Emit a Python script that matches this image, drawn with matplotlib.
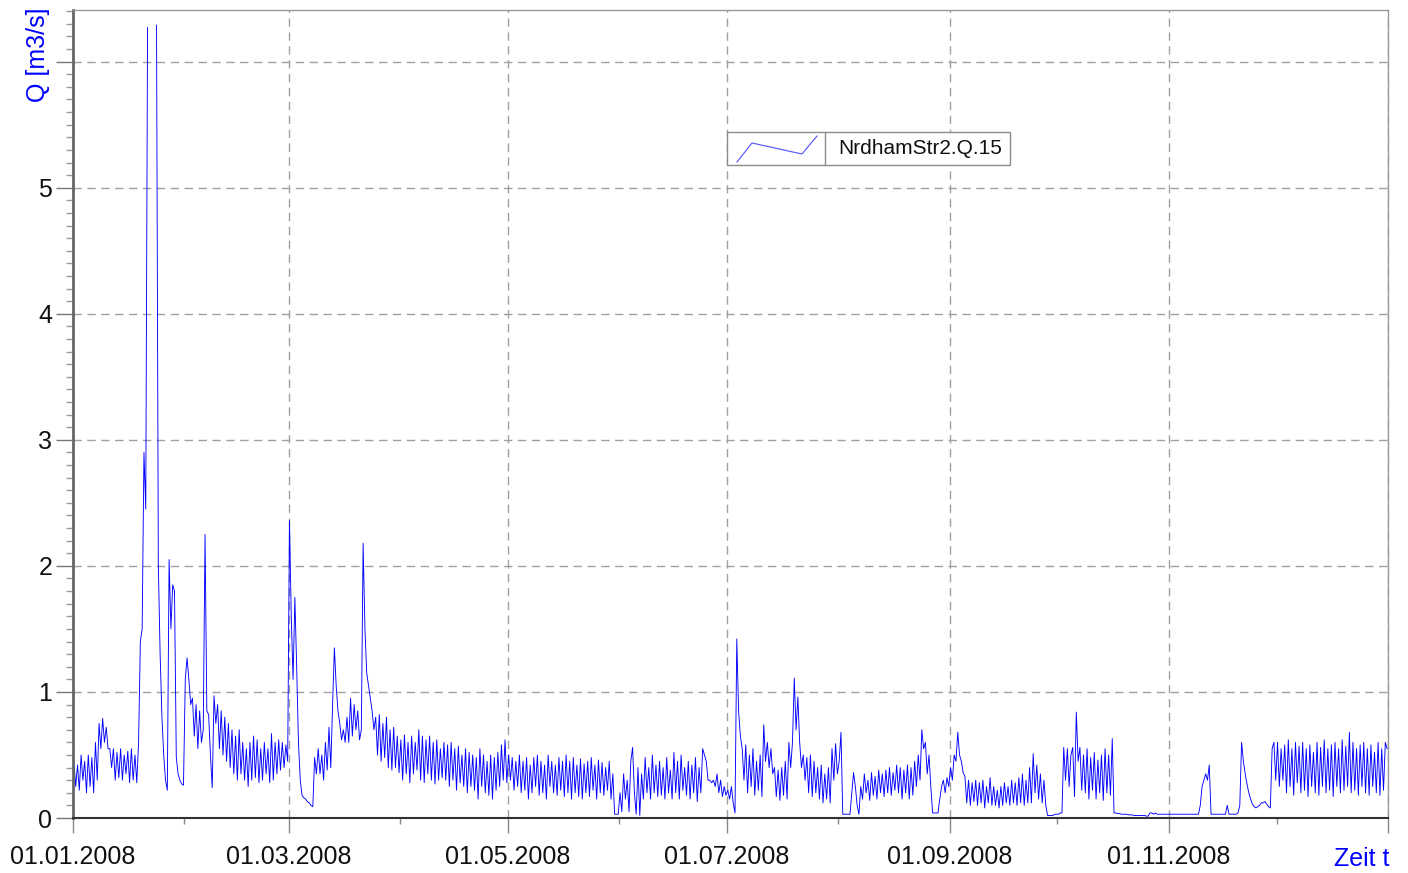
import numpy as np
import matplotlib
matplotlib.use("Agg")
import matplotlib.pyplot as plt
from matplotlib.lines import Line2D
from matplotlib.patches import Rectangle
from matplotlib.ticker import MultipleLocator, FuncFormatter

plt.rcParams['font.family'] = ['Liberation Sans', 'DejaVu Sans']

nan = np.nan

# discharge, two readings per day (06:00 and 18:00), one list per month
q_jan = [(0.45, 0.25), (0.42, 0.22), (0.5, 0.3), (0.45, 0.2), (0.5, 0.25), (0.48, 0.2), (0.6, 0.3), (0.75, 0.55),
         (0.79, 0.6), (0.72, 0.55), (0.55, 0.4), (0.55, 0.3), (0.52, 0.32), (0.55, 0.3), (0.5, 0.35), (0.53, 0.28),
         (0.55, 0.3), (0.5, 0.28), (0.6, 1.4), (1.5, 2.9), (2.45, 6.27), (nan, nan), (nan, nan), (6.29, 2.0),
         (1.3, 0.8), (0.5, 0.3), (0.22, 2.05), (1.5, 1.85), (1.8, 0.48), (0.35, 0.3), (0.27, 0.26)]
q_feb = [(1.1, 1.27), (1.1, 0.9), (0.95, 0.65), (0.9, 0.55), (0.85, 0.6), (0.7, 2.25), (0.85, 0.82), (0.5, 0.24),
         (0.97, 0.75), (0.9, 0.55), (0.85, 0.5), (0.8, 0.45), (0.75, 0.4), (0.7, 0.35), (0.65, 0.3), (0.7, 0.35),
         (0.6, 0.3), (0.55, 0.25), (0.6, 0.3), (0.65, 0.32), (0.62, 0.28), (0.55, 0.3), (0.6, 0.35), (0.55, 0.28),
         (0.67, 0.3), (0.6, 0.35), (0.62, 0.38), (0.6, 0.4), (0.58, 0.45)]
q_mar = [(2.36, 1.6), (1.1, 1.75), (1.2, 0.6), (0.3, 0.18), (0.16, 0.15), (0.13, 0.12), (0.1, 0.09), (0.48, 0.35),
         (0.55, 0.35), (0.5, 0.3), (0.6, 0.38), (0.72, 0.4), (0.9, 1.35), (1.05, 0.85), (0.75, 0.62), (0.7, 0.6),
         (0.8, 0.6), (0.95, 0.65), (0.9, 0.7), (0.85, 0.62), (0.7, 2.18), (1.5, 1.15), (1.05, 0.95), (0.85, 0.7),
         (0.8, 0.5), (0.82, 0.45), (0.75, 0.48), (0.8, 0.4), (0.7, 0.38), (0.72, 0.4), (0.65, 0.36)]
q_apr = [(0.62, 0.3), (0.66, 0.35), (0.6, 0.28), (0.65, 0.35), (0.6, 0.38), (0.7, 0.3), (0.65, 0.28), (0.62, 0.35),
         (0.65, 0.3), (0.6, 0.27), (0.62, 0.3), (0.55, 0.32), (0.6, 0.3), (0.58, 0.25), (0.6, 0.3), (0.55, 0.22),
         (0.57, 0.28), (0.5, 0.25), (0.55, 0.2), (0.52, 0.25), (0.5, 0.22), (0.48, 0.15), (0.55, 0.25), (0.5, 0.2),
         (0.45, 0.18), (0.5, 0.15), (0.48, 0.22), (0.52, 0.25), (0.58, 0.3), (0.62, 0.28)]
q_may = [(0.5, 0.3), (0.48, 0.22), (0.45, 0.25), (0.5, 0.2), (0.45, 0.22), (0.48, 0.15), (0.42, 0.2), (0.48, 0.25),
         (0.5, 0.18), (0.45, 0.2), (0.42, 0.15), (0.5, 0.25), (0.45, 0.2), (0.42, 0.18), (0.48, 0.22), (0.45, 0.17),
         (0.5, 0.2), (0.45, 0.15), (0.48, 0.2), (0.42, 0.17), (0.47, 0.15), (0.43, 0.2), (0.45, 0.17), (0.48, 0.22),
         (0.42, 0.15), (0.46, 0.2), (0.44, 0.18), (0.4, 0.22), (0.45, 0.15), (0.35, 0.03), (0.03, 0.03)]
q_jun = [(0.2, 0.05), (0.35, 0.15), (0.3, 0.05), (0.45, 0.56), (0.2, 0.03), (0.4, 0.02), (0.35, 0.15), (0.48, 0.2),
         (0.4, 0.15), (0.5, 0.2), (0.42, 0.17), (0.45, 0.18), (0.4, 0.15), (0.48, 0.2), (0.38, 0.15), (0.52, 0.2),
         (0.45, 0.15), (0.5, 0.22), (0.4, 0.18), (0.45, 0.15), (0.42, 0.2), (0.48, 0.13), (0.4, 0.2), (0.55, 0.5),
         (0.45, 0.3), (0.3, 0.28), (0.3, 0.25), (0.35, 0.2), (0.3, 0.17), (0.25, 0.18)]
q_jul = [(0.22, 0.15), (0.25, 0.12), (0.04, 1.42), (0.85, 0.65), (0.55, 0.3), (0.58, 0.2), (0.5, 0.25), (0.55, 0.18),
         (0.45, 0.22), (0.5, 0.17), (0.74, 0.45), (0.6, 0.4), (0.55, 0.35), (0.4, 0.17), (0.38, 0.14), (0.4, 0.18),
         (0.45, 0.15), (0.6, 0.4), (0.6, 1.11), (0.7, 0.96), (0.6, 0.4), (0.5, 0.3), (0.48, 0.2), (0.5, 0.17),
         (0.45, 0.2), (0.4, 0.15), (0.42, 0.12), (0.35, 0.15), (0.4, 0.12), (0.55, 0.3), (0.59, 0.35)]
q_aug = [(0.45, 0.68), (0.03, 0.03), (0.03, 0.03), (0.03, 0.2), (0.36, 0.25), (0.1, 0.03), (0.25, 0.15), (0.35, 0.2),
         (0.3, 0.14), (0.36, 0.18), (0.33, 0.15), (0.38, 0.2), (0.35, 0.17), (0.38, 0.2), (0.4, 0.18), (0.36, 0.22),
         (0.42, 0.2), (0.4, 0.15), (0.38, 0.2), (0.42, 0.15), (0.4, 0.18), (0.45, 0.25), (0.5, 0.3), (0.7, 0.55),
         (0.6, 0.35), (0.5, 0.25), (0.04, 0.04), (0.04, 0.04), (0.15, 0.25), (0.3, 0.2), (0.32, 0.25)]
q_sep = [(0.4, 0.3), (0.5, 0.45), (0.68, 0.5), (0.45, 0.36), (0.33, 0.12), (0.3, 0.1), (0.28, 0.13), (0.3, 0.1),
         (0.28, 0.12), (0.3, 0.08), (0.25, 0.12), (0.32, 0.1), (0.25, 0.1), (0.22, 0.08), (0.25, 0.1), (0.28, 0.12),
         (0.25, 0.1), (0.3, 0.12), (0.28, 0.1), (0.32, 0.12), (0.35, 0.1), (0.3, 0.12), (0.4, 0.12), (0.51, 0.2),
         (0.42, 0.15), (0.35, 0.12), (0.3, 0.1), (0.02, 0.02), (0.02, 0.02), (0.03, 0.03)]
q_oct = [(0.03, 0.04), (0.04, 0.56), (0.3, 0.55), (0.25, 0.5), (0.56, 0.17), (0.84, 0.45), (0.56, 0.22), (0.5, 0.2),
         (0.55, 0.15), (0.48, 0.22), (0.52, 0.15), (0.46, 0.2), (0.5, 0.14), (0.55, 0.2), (0.5, 0.18), (0.63, 0.04),
         (0.04, 0.035), (0.035, 0.03), (0.03, 0.03), (0.03, 0.025), (0.025, 0.025), (0.02, 0.02), (0.02, 0.02), (0.02, 0.02),
         (0.02, 0.015), (0.015, 0.04), (0.04, 0.03), (0.04, 0.03), (0.03, 0.03), (0.03, 0.03), (0.03, 0.03)]
q_nov = [(0.03, 0.03), (0.03, 0.03), (0.03, 0.03), (0.03, 0.03), (0.03, 0.03), (0.03, 0.03), (0.03, 0.03), (0.03, 0.03),
         (0.03, 0.1), (0.25, 0.3), (0.35, 0.3), (0.42, 0.03), (0.03, 0.03), (0.03, 0.03), (0.03, 0.03), (0.03, 0.03),
         (0.1, 0.03), (0.03, 0.03), (0.03, 0.03), (0.04, 0.1), (0.6, 0.45), (0.35, 0.27), (0.2, 0.15), (0.11, 0.09),
         (0.08, 0.09), (0.1, 0.12), (0.12, 0.13), (0.11, 0.09), (0.08, 0.55), (0.6, 0.3)]
q_dec = [(0.6, 0.25), (0.55, 0.3), (0.58, 0.2), (0.62, 0.25), (0.55, 0.18), (0.6, 0.28), (0.57, 0.2), (0.6, 0.22),
         (0.55, 0.17), (0.58, 0.25), (0.52, 0.2), (0.6, 0.18), (0.56, 0.25), (0.62, 0.2), (0.55, 0.22), (0.58, 0.17),
         (0.6, 0.25), (0.55, 0.2), (0.62, 0.22), (0.57, 0.25), (0.68, 0.2), (0.6, 0.22), (0.55, 0.18), (0.58, 0.25),
         (0.6, 0.2), (0.55, 0.18), (0.58, 0.25), (0.52, 0.2), (0.6, 0.18), (0.55, 0.22), (0.6, 0.55)]

months = [q_jan, q_feb, q_mar, q_apr, q_may, q_jun, q_jul, q_aug, q_sep, q_oct, q_nov, q_dec]
days_in_month = [31, 29, 31, 30, 31, 30, 31, 31, 30, 31, 30, 31]
for m, n in zip(months, days_in_month):
    assert len(m) == n, (len(m), n)

q = np.array([v for m in months for pair in m for v in pair], dtype=float)
t = np.datetime64('2008-01-01T06:00') + np.arange(len(q)) * np.timedelta64(12, 'h')

major_dates = np.array(['2008-01-01', '2008-03-01', '2008-05-01', '2008-07-01',
                        '2008-09-01', '2008-11-01', '2009-01-01'], dtype='datetime64[D]')
major_labels = ['01.01.2008', '01.03.2008', '01.05.2008', '01.07.2008',
                '01.09.2008', '01.11.2008', '']
minor_dates = np.array(['2008-02-01', '2008-04-01', '2008-06-01', '2008-08-01',
                        '2008-10-01', '2008-12-01'], dtype='datetime64[D]')

W, H = 1408, 873
fig = plt.figure(figsize=(W / 100, H / 100), dpi=100)
ax = fig.add_axes([73 / W, 55 / H, (1388 - 73) / W, (818 - 10) / H])

ax.plot(t, q, color='#0000ff', lw=0.65)

ax.set_xlim(np.datetime64('2008-01-01'), np.datetime64('2009-01-01'))
ax.set_ylim(0, 6.41)

ax.set_xticks(major_dates, major_labels)
ax.set_xticks(minor_dates, minor=True)
ax.yaxis.set_major_locator(MultipleLocator(1))
ax.yaxis.set_minor_locator(MultipleLocator(0.1))
ax.yaxis.set_major_formatter(FuncFormatter(lambda v, p: '' if v > 5.5 else f'{v:.0f}'))

ax.tick_params(axis='x', which='major', length=11, width=1, color='#888888',
               labelsize=18, pad=8.5, labelcolor='#111111')
ax.tick_params(axis='x', which='minor', length=4.5, width=1, color='#888888')
ax.tick_params(axis='y', which='major', length=12, width=1, color='#777777',
               labelsize=18, pad=3, labelcolor='#111111')
ax.tick_params(axis='y', which='minor', length=5, width=1, color='#999999')

ax.grid(True, which='major', color='#a0a0a0', linestyle=(0, (6, 4)), lw=1)

ax.spines['left'].set_color('#666666')
ax.spines['left'].set_linewidth(2)
ax.spines['bottom'].set_color('#333333')
ax.spines['bottom'].set_linewidth(1.5)
for s in ('top', 'right'):
    ax.spines[s].set_color('#999999')
    ax.spines[s].set_linewidth(1)

# axis captions
fig.text(38 / W, 1 - 8 / H, 'Q [m3/s]', rotation=90, ha='center', va='top',
         color='#0000ff', fontsize=18)
fig.text(1389 / W, 1 - 866 / H, 'Zeit t', ha='right', va='baseline',
         color='#0000ff', fontsize=18)

# legend box with a divider between the line sample and the series name
def fx(px):
    return px / W

def fy(py):
    return 1 - py / H

fig.add_artist(Rectangle((fx(727), fy(165)), fx(1010) - fx(727), fy(132) - fy(165),
                         transform=fig.transFigure, facecolor='white',
                         edgecolor='#8c8c8c', lw=1))
fig.add_artist(Line2D([fx(825), fx(825)], [fy(132), fy(165)],
                      transform=fig.transFigure, color='#8c8c8c', lw=1))
fig.add_artist(Line2D([fx(737), fx(752), fx(802), fx(817)],
                      [fy(162), fy(143), fy(154), fy(136)],
                      transform=fig.transFigure, color='#5050ff', lw=0.8))
fig.text(fx(838), fy(149), 'NrdhamStr2.Q.15', ha='left', va='center',
         fontsize=15, color='#111111')

fig.savefig('out.png', dpi=100)
